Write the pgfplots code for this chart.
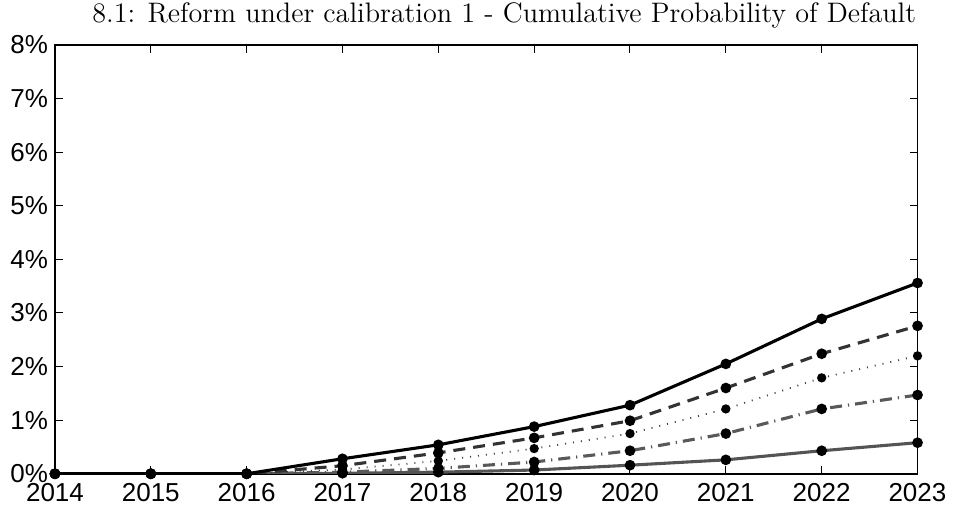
\documentclass[border=0pt]{standalone}
\usepackage{fontspec}
\setsansfont{Liberation Sans}
\usepackage{pgfplots}
\pgfplotsset{compat=1.18}
\begin{document}
\begin{tikzpicture}
\begin{axis}[
  name=a,
  scale only axis,
  width=431.5pt, height=214.5pt,
  xmin=2014, xmax=2023, ymin=0, ymax=8,
  xtick={2014,...,2023},
  xticklabels={2014,2015,2016,2017,2018,2019,2020,2021,2022,2023},
  ytick={0,1,...,8},
  yticklabels={0\%,1\%,2\%,3\%,4\%,5\%,6\%,7\%,8\%},
  ticklabel style={font=\sffamily\fontsize{13}{14}\selectfont},
  xticklabel style={yshift=-1.5pt},
  tick align=inside,
  major tick length=4pt,
  axis line style={line width=0.8pt},
  tick style={line width=0.5pt, black},
  title={8.1: Reform under calibration 1 - Cumulative Probability of Default},
  title style={font=\fontsize{14.1}{15}\selectfont, at={(0.5,1)}, anchor=base,
    inner sep=1pt, yshift=5.5pt, xshift=9pt},
  every axis plot/.append style={line width=1.55pt, mark=*, mark size=1.85pt,
    mark options={solid, fill=black, draw=black}},
]
\addplot[color=black!67] coordinates {(2014,0) (2015,0) (2016,0) (2017,0.01) (2018,0.03) (2019,0.07) (2020,0.16) (2021,0.26) (2022,0.43) (2023,0.58)};
\addplot[color=black!65, dash pattern=on 6pt off 3pt on 0.6pt off 3pt] coordinates {(2014,0) (2015,0) (2016,0) (2017,0.03) (2018,0.10) (2019,0.22) (2020,0.43) (2021,0.75) (2022,1.21) (2023,1.47)};
\addplot[color=black!75, line width=0.9pt, dash pattern=on 0.5pt off 3.5pt] coordinates {(2014,0) (2015,0) (2016,0) (2017,0.08) (2018,0.24) (2019,0.47) (2020,0.75) (2021,1.21) (2022,1.79) (2023,2.20)};
\addplot[color=black!80, dash pattern=on 6pt off 4pt] coordinates {(2014,0) (2015,0) (2016,0) (2017,0.15) (2018,0.39) (2019,0.67) (2020,0.99) (2021,1.60) (2022,2.24) (2023,2.76)};
\addplot[color=black] coordinates {(2014,0) (2015,0) (2016,0) (2017,0.28) (2018,0.54) (2019,0.88) (2020,1.28) (2021,2.05) (2022,2.89) (2023,3.56)};
\end{axis}
\path (a.south west) ++(-27.5pt,-21pt) rectangle ++(476.5pt,258pt);
\end{tikzpicture}
\end{document}
